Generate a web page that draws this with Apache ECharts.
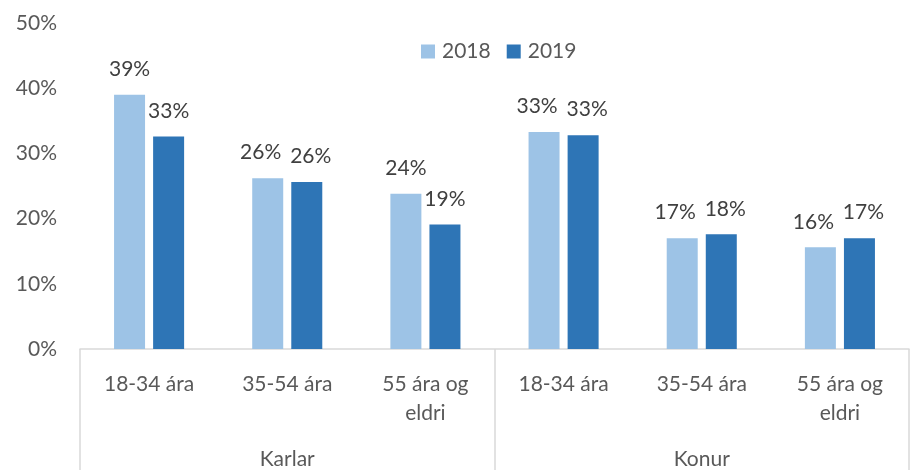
<!DOCTYPE html>
<html style="height: 100%">
<head>
    <meta charset="utf-8">
    <title>Karlar / Konur</title>
    <style>
    body { margin: 0; height: 100%; background: #fff; }
    #container { width: 914px; height: 470px; }
    </style>
</head>
<body>
    <div id="container"></div>
    <script type="text/javascript" src="https://cdn.jsdelivr.net/npm/echarts@6/dist/echarts.min.js"></script>
    <script type="text/javascript">
    // aldurshopar (inner labels) and kyn (outer labels)
    var ageGroups = ['18-34 ára', '35-54 ára', '55 ára og\neldri', '18-34 ára', '35-54 ára', '55 ára og\neldri'];
    var genders = ['Karlar', 'Konur'];
    var yTicks = [0, 0.1, 0.2, 0.3, 0.4, 0.5];

    var v2018 = [0.390, 0.262, 0.238, 0.333, 0.170, 0.156];
    var v2019 = [0.326, 0.256, 0.191, 0.328, 0.176, 0.170];

    var font = 'Lato, "Open Sans", sans-serif';
    var lineCol = '#d9d9d9';

    function pct(p) {
        return Math.round(p.value * 100) + '%';
    }

    // push the two labels apart when the bars are about the same height
    function spread(params) {
        var i = params.dataIndex;
        if (Math.abs(v2018[i] - v2019[i]) > 0.03) { return {}; }
        return { dx: params.seriesIndex === 0 ? -7 : 4 };
    }

    var dom = document.getElementById('container');
    var myChart = echarts.init(dom, null, { renderer: 'canvas' });

    var barLabel = {
        show: true,
        position: 'top',
        distance: 15,
        formatter: pct,
        fontFamily: font,
        fontSize: 21,
        color: '#404040'
    };

    var option = {
        animation: false,
        textStyle: { fontFamily: font },
        legend: {
            data: ['2018', '2019'],
            left: 416,
            top: 36,
            itemWidth: 14,
            itemHeight: 14,
            itemGap: 16,
            icon: 'rect',
            textStyle: { fontFamily: font, fontSize: 21, color: '#595959', padding: [0, 0, 0, 2] }
        },
        grid: { left: 80, right: 5, top: 23, bottom: 120, containLabel: false },
        xAxis: [{
            type: 'category',
            data: ageGroups,
            position: 'bottom',
            axisLine: { show: false },
            axisTick: { show: false },
            axisLabel: {
                interval: 0,
                margin: 21,
                fontFamily: font,
                fontSize: 21,
                lineHeight: 29,
                color: '#595959'
            }
        }, {
            type: 'category',
            data: genders,
            position: 'bottom',
            axisLine: { show: true, lineStyle: { color: lineCol, width: 1.5 } },
            axisTick: { show: true, length: 125, lineStyle: { color: lineCol, width: 1.5 } },
            axisLabel: {
                interval: 0,
                margin: 100,
                fontFamily: font,
                fontSize: 21,
                color: '#595959'
            }
        }],
        yAxis: {
            type: 'value',
            min: yTicks[0],
            max: yTicks[yTicks.length - 1],
            interval: 0.1,
            axisLine: { show: false },
            axisTick: { show: false },
            splitLine: { show: false },
            axisLabel: {
                margin: 23,
                fontFamily: font,
                fontSize: 21,
                color: '#595959',
                formatter: function (v) { return Math.round(v * 100) + '%'; }
            }
        },
        series: [{
            name: '2018',
            type: 'bar',
            xAxisIndex: 0,
            data: v2018,
            barWidth: 31,
            barGap: '26%',
            itemStyle: { color: '#9dc3e6' },
            label: barLabel,
            labelLayout: spread
        }, {
            name: '2019',
            type: 'bar',
            xAxisIndex: 0,
            data: v2019,
            barWidth: 31,
            barGap: '26%',
            itemStyle: { color: '#2e75b6' },
            label: barLabel,
            labelLayout: spread
        }]
    };

    myChart.setOption(option);
    </script>
</body>
</html>
